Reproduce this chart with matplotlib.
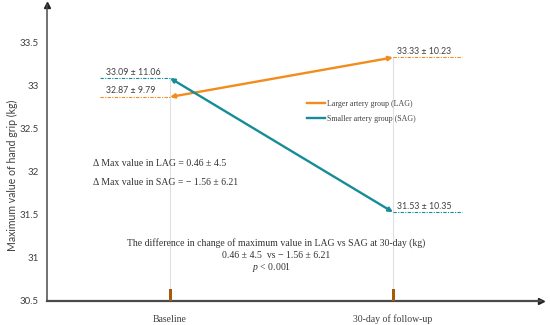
import matplotlib
matplotlib.use("Agg")
import matplotlib.pyplot as plt
from matplotlib.lines import Line2D

plt.rcParams["mathtext.fontset"] = "custom"
plt.rcParams["mathtext.it"] = "Liberation Serif:italic"
plt.rcParams["mathtext.rm"] = "Liberation Serif"

# ---- data ----
timepoints = ["Baseline", "30-day of follow-up"]
lag_mean = [32.87, 33.33]
lag_sd = [9.79, 10.23]
sag_mean = [33.09, 31.53]
sag_sd = [11.06, 10.35]
yticks = [30.5, 31, 31.5, 32, 32.5, 33, 33.5]
delta_lag = "0.46 \u00b1 4.5"
delta_sag = "\u2212 1.56 \u00b1 6.21"

ORANGE = "#F28C1C"
TEAL = "#178C99"
BROWN = "#A85A0C"
SERIF = "Liberation Serif"
SANS = "Lato"

fig = plt.figure(figsize=(5.5, 3.25), dpi=100)
ax = fig.add_axes([47/550, (325-300.7)/325, (541-47)/550, (300.7-5)/325])
x = list(range(len(timepoints)))
ax.set_xlim(-123/223, 371/223)
ax.set_ylim(30.5, 33.94)

for s in ["top", "right"]:
    ax.spines[s].set_visible(False)
for s in ["left", "bottom"]:
    ax.spines[s].set_color("#4a4a4a")
ax.spines["left"].set_linewidth(1.1)
ax.spines["bottom"].set_linewidth(1.6)
ax.plot([0], [1], marker="^", color="#222222", markersize=4, transform=ax.transAxes, clip_on=False)
ax.plot([1], [0], marker=">", color="#222222", markersize=4, transform=ax.transAxes, clip_on=False)

ax.set_yticks(yticks)
ax.set_yticklabels([f"{v:g}" for v in yticks], fontfamily=SANS, fontsize=7, color="#404040")
ax.set_xticks(x)
ax.set_xticklabels(timepoints, fontfamily=SERIF, fontsize=7, color="#404040")
ax.tick_params(axis="y", length=0, pad=6)
ax.tick_params(axis="x", length=0, pad=10)
fig.text(12/550, 1 - 175/325, "Maximum value of hand grip (kg)", fontfamily=SANS, fontsize=7.6,
         color="#404040", rotation=90, ha="center", va="center")

# vertical guides
ax.plot([x[0], x[0]], [30.5, max(lag_mean[0], sag_mean[0])], color="#e0e0e0", lw=0.8, zorder=1)
ax.plot([x[1], x[1]], [30.5, max(lag_mean[1], sag_mean[1])], color="#e0e0e0", lw=0.8, zorder=1)

# brown markers
ax.bar(x, [0.135, 0.135], bottom=30.5, width=3/223, color=BROWN, zorder=3)

# dash-dot reference lines
dd = (0, (3, 1.2, 1, 1.2))
ax.plot([-0.314, x[0]], [sag_mean[0]]*2, color=TEAL, lw=0.8, ls=dd, zorder=2)
ax.plot([-0.314, x[0]], [lag_mean[0]]*2, color=ORANGE, lw=0.8, ls=dd, zorder=2)
ax.plot([x[1], 1.309], [lag_mean[1]]*2, color=ORANGE, lw=0.8, ls=dd, zorder=2)
ax.plot([x[1], 1.309], [sag_mean[1]]*2, color=TEAL, lw=0.8, ls=dd, zorder=2)

# arrows
for m, c in [(lag_mean, ORANGE), (sag_mean, TEAL)]:
    ax.annotate("", xy=(x[1], m[1]), xytext=(x[0], m[0]),
                arrowprops=dict(arrowstyle="<|-|>", color=c, lw=1.7, mutation_scale=6,
                                shrinkA=0, shrinkB=0), zorder=4)

# value labels
for m, sd in [(sag_mean, sag_sd), (lag_mean, lag_sd)]:
    ax.annotate(f"{m[0]:.2f} \u00b1 {sd[0]:.2f}", xy=(x[0], m[0]), xytext=(-64, 6),
                textcoords="offset pixels", ha="left", va="center",
                fontfamily=SANS, fontsize=6.3, color="#404040")
    ax.annotate(f"{m[1]:.2f} \u00b1 {sd[1]:.2f}", xy=(x[1], m[1]), xytext=(4, 6),
                textcoords="offset pixels", ha="left", va="center",
                fontfamily=SANS, fontsize=6.3, color="#404040")

# legend
handles = [Line2D([], [], color=ORANGE, lw=1.7), Line2D([], [], color=TEAL, lw=1.7)]
fig.legend(handles, ["Larger artery group (LAG)", "Smaller artery group (SAG)"],
           loc="upper left", bbox_to_anchor=(307/550, 1 - 100/325), frameon=False,
           prop=dict(family=SERIF, size=5.7), handlelength=2.3, handletextpad=0.2,
           labelspacing=0.9, borderpad=0, borderaxespad=0, labelcolor="#404040")

tc = "#333333"
fig.text(93/550, 1 - 164/325, f"\u0394 Max value in LAG = {delta_lag}", fontfamily=SERIF,
         fontsize=7, color=tc, ha="left", va="center")
fig.text(93/550, 1 - 183/325, f"\u0394 Max value in SAG = {delta_sag}", fontfamily=SERIF,
         fontsize=7, color=tc, ha="left", va="center")
fig.text(276/550, 1 - 243/325,
         "The difference in change of maximum value in LAG vs SAG at 30-day (kg)",
         fontfamily=SERIF, fontsize=7, color=tc, ha="center", va="center")
fig.text(276/550, 1 - 255/325, f"{delta_lag}  vs {delta_sag}", fontfamily=SERIF,
         fontsize=7, color=tc, ha="center", va="center")
fig.text(272/550, 1 - 267/325, r"$p$ < 0.001", fontfamily=SERIF,
         fontsize=7, color=tc, ha="center", va="center")

fig.savefig("out.png", dpi=100)
